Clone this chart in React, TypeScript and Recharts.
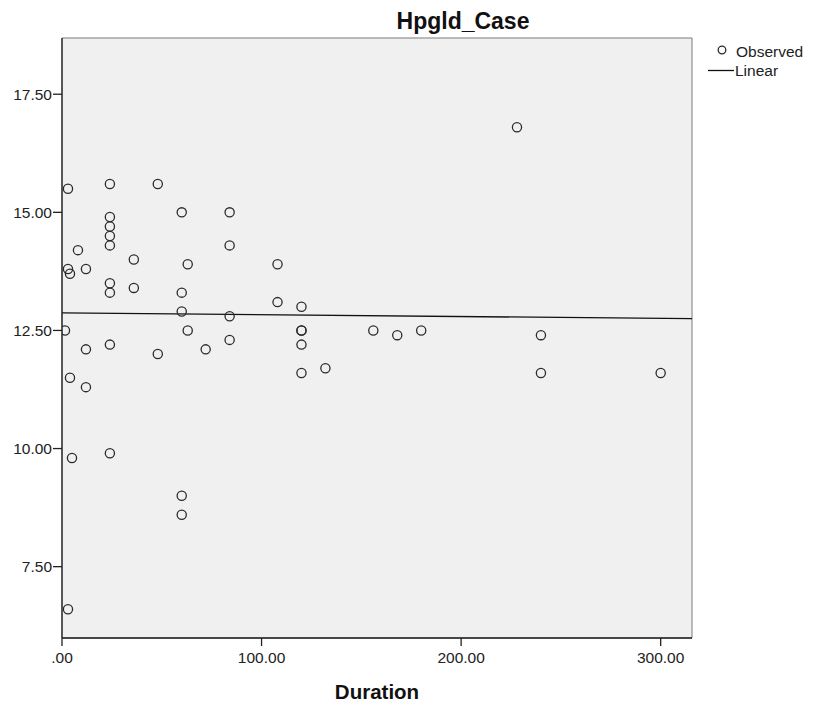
import { ScatterChart, Scatter, XAxis, YAxis, ReferenceArea, ReferenceLine } from 'recharts'

document.body.style.margin = '0'

// observed points (Duration, Hpgld_Case)
const duration = [
  3, 24, 48, 60, 84, 24, 24, 24, 24, 84, 8, 36, 3, 4, 12, 63, 108, 24, 24, 36,
  60, 108, 120, 60, 84, 1.5, 63, 120, 24, 84, 12, 48, 72, 120, 4, 12, 120,
  228, 120, 132, 156, 168, 180, 240, 240, 300, 5, 24, 60, 60, 3,
]
const hpgld = [
  15.5, 15.6, 15.6, 15.0, 15.0, 14.9, 14.7, 14.5, 14.3, 14.3, 14.2, 14.0, 13.8, 13.7, 13.8, 13.9, 13.9, 13.5, 13.3, 13.4,
  13.3, 13.1, 13.0, 12.9, 12.8, 12.5, 12.5, 12.5, 12.2, 12.3, 12.1, 12.0, 12.1, 12.2, 11.5, 11.3, 11.6,
  16.8, 12.5, 11.7, 12.5, 12.4, 12.5, 12.4, 11.6, 11.6, 9.8, 9.9, 9.0, 8.6, 6.6,
]

// fitted linear line, end points
const fitX = [0, 315.7]
const fitY = [12.87, 12.75]

const xTicks = [0, 100, 200, 300]
const yTicks = [7.5, 10, 12.5, 15, 17.5]
const xDomain = [0, 315.7]
const yDomain = [5.99, 18.69]

const points = duration.map((d, i) => ({ x: d, y: hpgld[i] }))

const fmt = (v: number) => (v === 0 ? '.00' : v.toFixed(2))
const font = '"Liberation Sans", Arial, sans-serif'

const Ring = (props: any) => (
  <circle cx={props.cx} cy={props.cy} r={4.6} fill="none" stroke="#2b2b2b" strokeWidth={1.3} />
)

export default function App() {
  return (
    <div style={{ position: 'relative', width: 818, height: 709, background: '#fff', fontFamily: font }}>
      <ScatterChart width={818} height={709} margin={{ top: 38, right: 126, left: 7, bottom: 41 }}>
        <ReferenceArea
          x1={xDomain[0]} x2={xDomain[1]} y1={yDomain[0]} y2={yDomain[1]}
          fill="#f0f0f0" fillOpacity={1} stroke="#7a7a7a" strokeWidth={1}
        />
        <XAxis
          type="number" dataKey="x" domain={xDomain} ticks={xTicks} tickFormatter={fmt}
          allowDataOverflow height={30} tickSize={8} tickMargin={6}
          axisLine={{ stroke: '#222', strokeWidth: 1.3 }} tickLine={{ stroke: '#222', strokeWidth: 1.3 }}
          tick={{ fill: '#222', fontSize: 15.5, fontFamily: font }}
        />
        <YAxis
          type="number" dataKey="y" domain={yDomain} ticks={yTicks} tickFormatter={fmt}
          allowDataOverflow width={55} tickSize={9} tickMargin={1}
          axisLine={{ stroke: '#222', strokeWidth: 1.3 }} tickLine={{ stroke: '#222', strokeWidth: 1.3 }}
          tick={{ fill: '#222', fontSize: 15.5, fontFamily: font }}
        />
        <ReferenceLine
          segment={[{ x: fitX[0], y: fitY[0] }, { x: fitX[1], y: fitY[1] }]}
          stroke="#111" strokeWidth={1.3} ifOverflow="hidden"
        />
        <Scatter data={points} shape={Ring} isAnimationActive={false} />
      </ScatterChart>
      <svg width={818} height={709} style={{ position: 'absolute', left: 0, top: 0, pointerEvents: 'none' }}>
        <text x={463} y={29} textAnchor="middle" fontSize={23} fontWeight={700} fill="#111" fontFamily={font}>Hpgld_Case</text>
        <text x={377} y={699} textAnchor="middle" fontSize={20.5} fontWeight={700} fill="#111" fontFamily={font}>Duration</text>
        <circle cx={722} cy={50} r={3.8} fill="none" stroke="#2b2b2b" strokeWidth={1.3} />
        <text x={736} y={57} fontSize={15.5} fill="#222" fontFamily={font}>Observed</text>
        <line x1={708} y1={70.5} x2={734} y2={70.5} stroke="#111" strokeWidth={1.3} />
        <text x={735} y={76} fontSize={15.5} fill="#222" fontFamily={font}>Linear</text>
      </svg>
    </div>
  )
}
